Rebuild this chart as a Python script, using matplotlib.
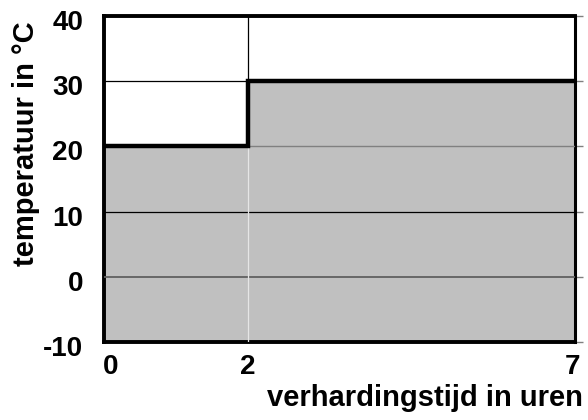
import matplotlib
matplotlib.use("Agg")
import matplotlib.pyplot as plt
from matplotlib.transforms import ScaledTranslation

# step edges (hours) and temperature per interval
hours = [-0.2, 2, 7]
temps = [20, 30]
y_ticks = [-10, 0, 10, 20, 30, 40]
x_ticks = [0, 2, 7]

plt.rcParams['font.family'] = ['Liberation Sans', 'DejaVu Sans']
plt.rcParams['font.weight'] = 'bold'
plt.rcParams['axes.unicode_minus'] = False

fig = plt.figure(figsize=(5.88, 4.20), dpi=100)
ax = fig.add_axes([104 / 588, 1 - 342 / 420, 471 / 588, 326 / 420])

# step curve built from the data
xs, ys = [], []
for i, t in enumerate(temps):
    xs += [hours[i], hours[i + 1]]
    ys += [t, t]

ax.set_xlim(hours[0], hours[-1])
ax.set_ylim(y_ticks[0], y_ticks[-1])

# grid in white area
for y in y_ticks[1:-1]:
    ax.axhline(y, color='black', lw=0.9, zorder=1)
ax.axvline(2, color='black', lw=0.9, zorder=1)

ax.fill_between(xs, ys, y_ticks[0], color='#c0c0c0', lw=0, zorder=2)

# grid lines visible inside the filled area
ax.axhline(10, color='black', lw=0.9, zorder=3)
ax.axhline(0, color='#606060', lw=1.3, zorder=3)
ax.axhline(20, color='#808080', lw=1.0, zorder=3)
ax.plot([2, 2], [y_ticks[0], 20], color='#e6e6e6', lw=0.9, zorder=3)

ax.plot(xs, ys, color='black', lw=3.2, zorder=4, solid_joinstyle='miter')

ax.set_xticks(x_ticks)
ax.set_yticks(y_ticks)
ax.tick_params(axis='x', length=0, pad=9, labelsize=20)
ax.tick_params(axis='y', left=False, right=True, length=6, width=1,
               color='#808080', pad=9, labelsize=20)
for lab in ax.get_xticklabels() + ax.get_yticklabels():
    lab.set_fontweight('bold')

# small nudges of the labels as in the reference
for lab in ax.get_yticklabels():
    lab.set_transform(lab.get_transform() + ScaledTranslation(0, -4 / 100, fig.dpi_scale_trans))
xl = ax.get_xticklabels()
for lab, dx in zip(xl, [-6, 0, -3]):
    lab.set_transform(lab.get_transform() + ScaledTranslation(dx / 100, 0, fig.dpi_scale_trans))

for side in ['left', 'bottom', 'top']:
    ax.spines[side].set_linewidth(2.8)
ax.spines['right'].set_linewidth(2.2)

fig.text(583 / 588, 1 - 398 / 420, 'verhardingstijd in uren', ha='right',
         va='center', fontsize=21, fontweight='bold')
fig.text(26 / 588, 1 - 144 / 420, 'temperatuur in °C', rotation=90,
         ha='center', va='center', fontsize=21, fontweight='bold')

fig.savefig('out.png', dpi=100)
